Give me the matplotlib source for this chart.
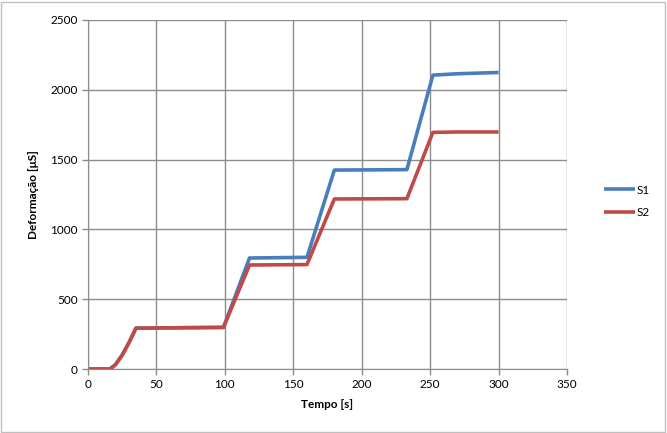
import matplotlib
matplotlib.use("Agg")
import matplotlib.pyplot as plt
from matplotlib.patches import Rectangle

plt.rcParams['font.family'] = ['Lato', 'DejaVu Sans']

t = [0, 16, 20, 25, 30, 35, 60, 99, 118, 160, 180, 233, 252, 270, 300]
s1 = [0, 0, 30, 100, 190, 292, 295, 298, 795, 800, 1425, 1428, 2105, 2115, 2124]
s2 = [0, 0, 30, 100, 190, 292, 295, 298, 745, 748, 1218, 1220, 1695, 1698, 1698]

xticks = [0, 50, 100, 150, 200, 250, 300, 350]
yticks = [0, 500, 1000, 1500, 2000, 2500]

fig = plt.figure(figsize=(6.67, 4.33), dpi=100)
ax = fig.add_axes([88/667, 1 - 369/433, (567 - 88)/667, (369 - 20)/433])

ax.plot(t, s1, color='#4A7EBB', lw=2.6, label='S1', solid_capstyle='butt')
ax.plot(t, s2, color='#BE4B48', lw=2.6, label='S2', solid_capstyle='butt')

ax.set_xlim(0, 350)
ax.set_ylim(0, 2500)
ax.set_xticks(xticks)
ax.set_yticks(yticks)
ax.grid(True, color='#8C8C8C', lw=1)
ax.set_axisbelow(True)
for s in ['top', 'right']:
    ax.spines[s].set_visible(False)
for s in ['left', 'bottom']:
    ax.spines[s].set_color('#8C8C8C')
ax.tick_params(axis='both', colors='#8C8C8C', labelcolor='black', labelsize=8.5, length=4, width=1)

ax.set_xlabel('Tempo [s]', fontsize=8.5, fontweight='bold', labelpad=6)
ax.set_ylabel('Deformação [μS]', fontsize=8.5, fontweight='bold', labelpad=8)

leg = ax.legend(loc='center left', bbox_to_anchor=(1.055, 0.48), frameon=False,
                fontsize=8.5, handlelength=2.6, handletextpad=0.2, labelspacing=1.0)

fig.patches.append(Rectangle((0.002, 0.003), 0.995, 0.993, transform=fig.transFigure,
                             fill=False, edgecolor='#BFBFBF', lw=1))

fig.savefig('out.png', dpi=100)
